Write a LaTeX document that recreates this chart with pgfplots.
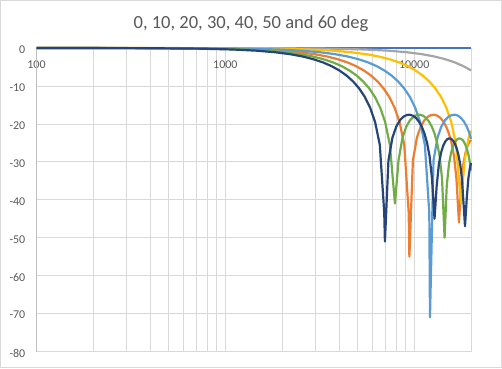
\documentclass[border=0pt]{standalone}
\usepackage{fontspec}
\setmainfont{Carlito}
\usepackage{pgfplots}
\pgfplotsset{compat=1.18}
\definecolor{sBlue}{HTML}{4472C4}
\definecolor{sOrange}{HTML}{ED7D31}
\definecolor{sGray}{HTML}{A5A5A5}
\definecolor{sYellow}{HTML}{FFC000}
\definecolor{sLBlue}{HTML}{5B9BD5}
\definecolor{sGreen}{HTML}{70AD47}
\definecolor{sNavy}{HTML}{264478}
\definecolor{txt}{HTML}{595959}
\definecolor{gridc}{HTML}{D9D9D9}
\definecolor{axisc}{HTML}{BFBFBF}
\begin{document}
\begin{tikzpicture}[x=1bp,y=1bp]
\path[use as bounding box] (0,0) rectangle (502,368);
\draw[color=gridc, line width=0.75bp] (0.5,0.5) rectangle (501.5,367.5);
\node[anchor=base, font=\fontsize{18.6}{22}\selectfont, text=txt, inner sep=0pt] at (251,340) {0, 10, 20, 30, 40, 50 and 60 deg};
\begin{axis}[
  at={(36.5bp,16.5bp)}, anchor=south west,
  scale only axis, width=434.5bp, height=303.5bp,
  xmode=log, xmin=100, xmax=20000, ymin=-80, ymax=0,
  clip=false,
  xtick={100,1000,10000}, xticklabels={100,1000,10000},
  minor xtick={200,300,400,500,600,700,800,900,2000,3000,4000,5000,6000,7000,8000,9000,20000},
  ytick={-80,-70,-60,-50,-40,-30,-20,-10,0},
  yticklabels={-80,-70,-60,-50,-40,-30,-20,-10,0},
  grid=both,
  major grid style={color=gridc, line width=0.75bp},
  minor grid style={color=gridc, line width=0.75bp},
  axis line style={draw=none},
  major tick length=0pt, minor tick length=0pt,
  tick style={draw=none},
  tick label style={font=\fontsize{12}{14}\selectfont, text=txt},
  xticklabel pos=upper,
  xticklabel style={anchor=base, yshift=-20bp, inner sep=0pt},
  yticklabel style={anchor=east, inner sep=0pt, xshift=-11bp, yshift=-1.5bp},
  every axis plot/.append style={line width=2.2bp, mark=none, line join=round},
]
\draw[color=axisc, line width=0.75bp] (axis cs:100,-80) -- (axis cs:100,0);
% 0 deg
\addplot[color=sBlue] coordinates {(100,0) (20000,0)};
% 40 deg
\addplot[color=sOrange] coordinates {(100,0) (492,-0.04) (984,-0.17) (1477,-0.39) (1969,-0.70) (2461,-1.11) (2953,-1.61) (3446,-2.22) (3938,-2.95) (4430,-3.79) (4922,-4.78) (5415,-5.93) (5907,-7.26) (6399,-8.82) (6891,-10.67) (7384,-12.91) (7876,-15.74) (8368,-19.54) (8860,-25.51) (9353,-43.43) (9431,-55) (9845,-29.63) (10337,-23.61) (10829,-20.71) (11322,-19.05) (11814,-18.11) (12306,-17.65) (12798,-17.59) (13290,-17.86) (13783,-18.46) (14275,-19.39) (14767,-20.70) (15259,-22.48) (15752,-24.92) (16244,-28.43) (16736,-34.34) (17267,-46) (17721,-36.43) (18213,-30.57) (18705,-27.56) (19197,-25.74) (19690,-24.63) (20000,-24.25)};
% 10 deg
\addplot[color=sGray] coordinates {(100,0) (1822,-0.04) (3644,-0.17) (5467,-0.39) (7289,-0.70) (9111,-1.11) (10933,-1.61) (12755,-2.22) (14578,-2.95) (16400,-3.79) (18222,-4.78) (20000,-5.90)};
% 20 deg
\addplot[color=sYellow] coordinates {(100,0) (925,-0.04) (1850,-0.17) (2775,-0.39) (3700,-0.70) (4626,-1.11) (5551,-1.61) (6476,-2.22) (7401,-2.95) (8326,-3.79) (9251,-4.78) (10176,-5.93) (11101,-7.26) (12027,-8.82) (12952,-10.67) (13877,-12.91) (14802,-15.74) (15727,-19.54) (16652,-25.51) (17724,-41) (18502,-29.63) (19428,-23.61) (20000,-21.81)};
% 30 deg
\addplot[color=sLBlue] coordinates {(100,0) (633,-0.04) (1266,-0.17) (1898,-0.39) (2531,-0.70) (3164,-1.11) (3797,-1.61) (4430,-2.22) (5063,-2.95) (5695,-3.79) (6328,-4.78) (6961,-5.93) (7594,-7.26) (8227,-8.82) (8859,-10.67) (9492,-12.91) (10125,-15.74) (10758,-19.54) (11391,-25.51) (12024,-43.43) (12124,-71) (12656,-29.63) (13289,-23.61) (13922,-20.71) (14555,-19.05) (15188,-18.11) (15821,-17.65) (16453,-17.59) (17086,-17.86) (17719,-18.46) (18352,-19.39) (18985,-20.70) (19617,-22.48) (20000,-23.96)};
% 50 deg
\addplot[color=sGreen] coordinates {(100,0) (413,-0.04) (826,-0.17) (1239,-0.39) (1652,-0.70) (2065,-1.11) (2478,-1.61) (2891,-2.22) (3304,-2.95) (3717,-3.79) (4130,-4.78) (4543,-5.93) (4956,-7.26) (5370,-8.82) (5783,-10.67) (6196,-12.91) (6609,-15.74) (7022,-19.54) (7435,-25.51) (7913,-41) (8261,-29.63) (8674,-23.61) (9087,-20.71) (9500,-19.05) (9913,-18.11) (10326,-17.65) (10739,-17.59) (11152,-17.86) (11565,-18.46) (11978,-19.39) (12391,-20.70) (12804,-22.48) (13217,-24.92) (13630,-28.43) (14043,-34.34) (14489,-50) (14869,-36.43) (15282,-30.57) (15696,-27.56) (16109,-25.74) (16522,-24.63) (16935,-24.02) (17348,-23.81) (17761,-23.95) (18174,-24.43) (18587,-25.27) (19000,-26.51) (19413,-28.26) (19826,-30.73) (20000,-32.3)};
% 60 deg
\addplot[color=sNavy] coordinates {(100,0) (365,-0.04) (731,-0.17) (1096,-0.39) (1461,-0.70) (1827,-1.11) (2192,-1.61) (2558,-2.22) (2923,-2.95) (3288,-3.79) (3654,-4.78) (4019,-5.93) (4384,-7.26) (4750,-8.82) (5115,-10.67) (5480,-12.91) (5846,-15.74) (6211,-19.54) (6576,-25.51) (6942,-43.43) (7000,-51) (7307,-29.63) (7673,-23.61) (8038,-20.71) (8403,-19.05) (8769,-18.11) (9134,-17.65) (9499,-17.59) (9865,-17.86) (10230,-18.46) (10595,-19.39) (10961,-20.70) (11326,-22.48) (11692,-24.92) (12057,-28.43) (12422,-34.34) (12816,-45) (13153,-36.43) (13518,-30.57) (13884,-27.56) (14249,-25.74) (14614,-24.63) (14980,-24.02) (15345,-23.81) (15710,-23.95) (16076,-24.43) (16441,-25.27) (16807,-26.51) (17172,-28.26) (17537,-30.73) (17903,-34.45) (18268,-41.21) (18585,-47) (18999,-39.43) (19364,-34.38) (19729,-31.59) (20000,-30.3)};
\end{axis}
\end{tikzpicture}
\end{document}
